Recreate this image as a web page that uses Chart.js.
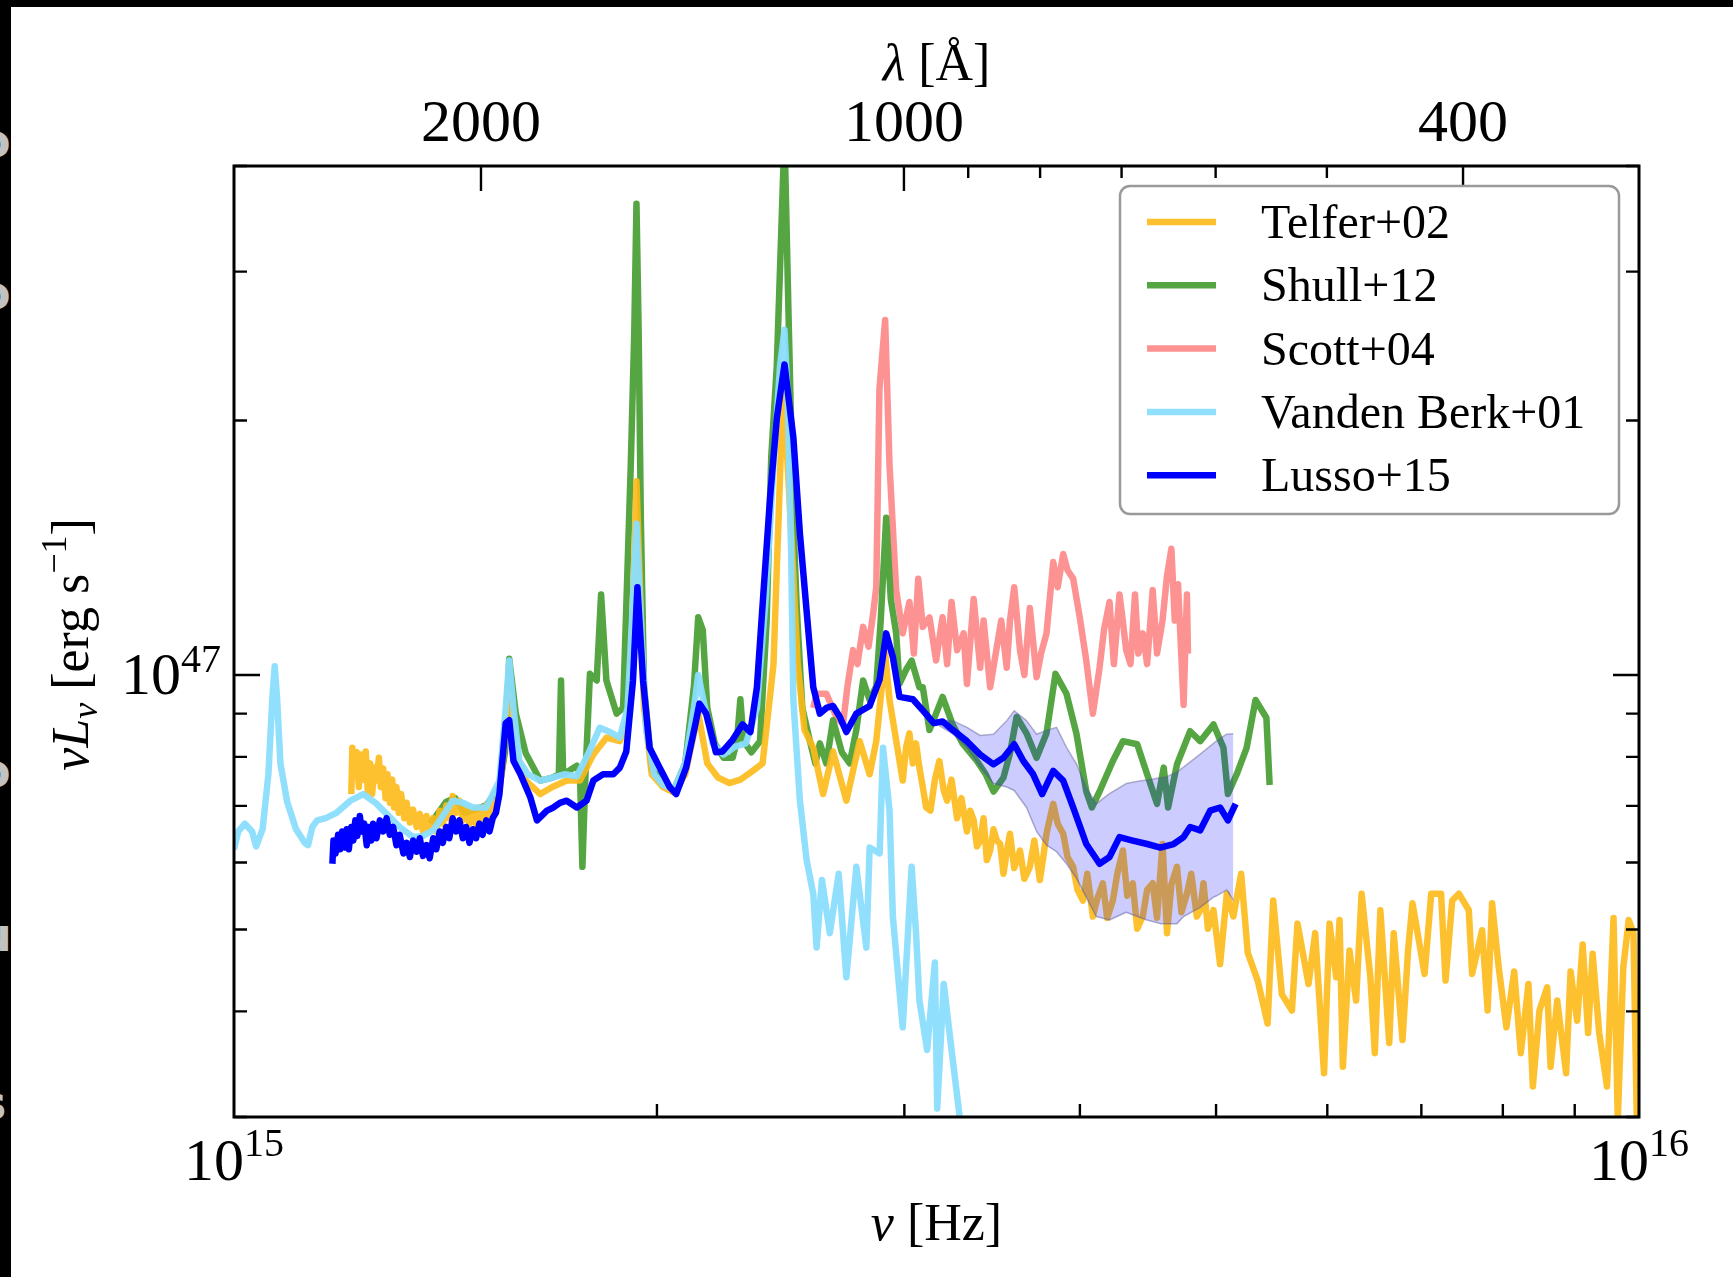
<!DOCTYPE html>
<html>
<head>
<meta charset="utf-8">
<title>Quasar composite spectra</title>
<script src="https://cdn.jsdelivr.net/npm/chart.js@4.4.1/dist/chart.umd.min.js"></script>
<style>
  html, body { margin: 0; padding: 0; background: #fff; }
  #wrap { position: relative; width: 1733px; height: 1277px; overflow: hidden; background: #fff; }
  #topbar { position: absolute; left: 0; top: 0; width: 1733px; height: 7px; background: #000; }
  #sidebar { position: absolute; left: 0; top: 0; width: 11px; height: 1277px; background: #000; overflow: hidden; }
  #sidebar span { position: absolute; left: -21px; font: bold 46px "DejaVu Sans"; color: #c2c2c2; line-height: 46px; }
</style>
</head>
<body>
<div id="wrap">
  <canvas id="myChart" width="1733" height="1277"></canvas>
  <div id="topbar"></div>
  <div id="sidebar">
    <span style="top:118px">o</span>
    <span style="top:270px">o</span>
    <span style="top:575px">f</span>
    <span style="top:748px">o</span>
    <span style="top:912px">u</span>
    <span style="top:1080px">s</span>
  </div>
</div>
<script>
// nu in units of 1e15 Hz, nuLnu in units of 1e46 erg/s
var telferNu = [1.212,1.214,1.219,1.223,1.227,1.232,1.236,1.241,1.245,1.250,1.254,1.259,1.263,1.268,1.272,1.277,1.282,1.286,1.291,1.296,
  1.300,1.305,1.310,1.315,1.322,1.327,1.334,1.341,1.349,1.356,1.363,1.371,1.378,1.386,1.393,1.401,1.408,1.416,1.423,1.431,
  1.439,1.447,1.455,1.463,1.471,1.479,1.487,1.495,1.503,1.512,1.520,1.528,1.536,1.545,1.553,1.561,1.570,1.579,1.587,1.613,
  1.652,1.685,1.725,1.763,1.802,1.841,1.882,1.913,1.934,1.958,1.983,2.020,2.057,2.095,2.140,2.172,2.211,2.252,2.293,2.335,
  2.378,2.421,2.460,2.492,2.519,2.547,2.584,2.626,2.669,2.728,2.788,2.834,2.865,2.907,2.928,2.944,
  2.992,3.009,3.025,3.042,3.058,3.075,3.092,3.109,3.131,3.154,
  3.177,3.200,3.218,3.241,3.271,3.294,3.324,3.342,3.361,3.379,
  3.397,3.416,3.434,3.453,3.472,3.491,3.510,3.529,3.548,3.567,
  3.592,3.626,3.652,3.685,3.712,3.746,3.767,3.787,3.808,3.829,
  3.857,3.892,3.920,3.956,3.984,4.020,4.049,4.086,4.116,4.153,
  4.183,4.222,4.253,4.292,4.323,4.362,4.394,4.434,4.466,4.507,
  4.539,4.580,4.614,4.647,4.690,4.724,4.767,4.801,4.845,4.872,
  4.898,4.934,4.979,
  5.033,5.089,5.144,5.210,
  5.267,5.353,5.441,5.491,5.570,5.662,5.714,5.818,5.882,5.968,6.022,6.088,6.122,6.155,6.222,6.290,6.347,6.439,6.486,6.545,
  6.641,6.690,6.787,6.849,6.899,7.037,7.114,7.230,7.283,7.363,7.444,7.566,7.607,7.733,7.803,7.860,7.946,8.047,8.150,8.239,
  8.343,8.403,8.495,8.603,8.651,8.746,8.874,8.939,9.036,9.118,9.200,9.268,9.369,9.489,9.591,9.658,9.746,9.833,9.910,9.964];
var telferL = [7.23,8.20,7.63,8.10,7.37,8.05,7.52,8.12,7.30,7.86,7.23,7.77,7.50,7.98,7.37,7.75,7.15,7.63,7.06,7.52,
  6.97,7.37,6.87,7.23,6.77,7.06,6.69,6.93,6.61,6.85,6.53,6.81,6.57,6.77,6.53,6.91,6.67,7.01,6.77,7.19,
  6.87,7.10,6.73,6.97,6.67,6.93,6.65,6.97,6.67,7.01,6.73,7.06,6.87,7.30,7.84,8.87,9.50,8.61,8.08,7.50,
  7.23,7.37,7.50,7.50,8.05,8.43,8.35,8.98,16.95,9.14,7.63,7.37,7.26,7.63,9.01,7.86,7.56,7.45,7.52,7.68,
  7.86,10.3,22.2,14.8,10.3,8.61,8.20,7.23,8.12,7.10,8.35,7.63,8.35,10.6,9.34,8.84,
  7.50,8.22,8.53,7.86,8.30,7.77,7.37,6.97,6.91,7.52,
  7.91,7.30,7.10,7.52,6.77,7.15,6.53,6.91,6.73,6.27,
  6.37,6.77,6.04,6.20,6.57,6.37,6.31,5.82,6.18,6.49,
  5.91,6.20,5.74,5.93,6.37,5.72,6.09,6.49,6.77,7.04,
  6.67,6.49,6.09,5.93,5.57,5.41,5.82,5.18,5.44,5.67,
  5.16,5.41,5.82,6.20,5.48,5.67,5.01,5.18,5.57,5.67,
  5.16,6.31,4.95,5.65,5.93,5.24,5.51,5.82,5.18,5.27,
  5.67,5.01,5.27,
  4.55,5.51,5.18,5.82,
  4.69,4.35,3.87,5.41,4.19,4.01,5.08,4.31,4.95,3.38,5.08,4.39,5.13,3.44,4.72,4.12,5.51,4.39,3.57,5.27,
  3.67,4.95,3.70,4.72,5.37,4.43,5.51,5.51,4.35,5.41,5.51,5.27,4.43,4.99,4.01,5.37,4.51,3.83,4.46,3.57,
  4.31,3.26,4.01,4.27,3.44,4.12,3.38,4.46,3.90,4.80,3.77,4.68,3.77,3.26,5.16,2.98,4.51,5.13,4.95,2.98];

var shullNu = [1.380,1.416,1.437,1.458,1.484,1.512,1.545,1.559,1.570,1.587,1.613,1.652,1.685,1.703,1.709,1.715,1.735,1.754,1.763,1.770,
  1.779,1.792,1.812,1.825,1.841,1.872,1.892,1.916,1.927,1.934,1.941,1.948,1.958,1.983,2.020,2.057,2.095,2.125,2.140,2.156,
  2.172,2.199,2.231,2.264,2.280,2.293,2.305,2.335,2.368,2.394,2.412,2.434,2.465,2.483,2.501,2.515,2.538,2.570,2.593,2.612,
  2.640,2.669,2.708,2.743,2.773,2.804,2.834,2.865,2.886,2.912,2.934,2.960,2.976,3.009,3.036,3.075,3.092,3.126,3.160,3.194,
  3.247,3.300,3.379,3.428,3.472,3.529,3.567,3.606,3.665,3.726,3.787,3.843,3.913,3.977,4.042,4.079,4.131,4.222,4.292,4.394,
  4.466,4.539,4.589,4.622,4.690,4.792,4.872,4.979,5.061,5.098,5.172,5.257,5.334,5.430,5.459];
var shullL = [6.67,7.08,7.15,6.87,6.93,7.01,7.37,8.10,10.45,9.00,8.08,7.50,7.56,7.63,9.85,7.63,7.72,7.81,7.63,5.93,
  7.63,10.03,9.85,12.45,9.85,9.00,9.14,17.7,25.4,36.1,25.4,15.2,9.70,7.75,7.45,7.32,7.86,9.70,11.7,11.3,
  9.14,8.30,7.98,7.98,8.35,9.36,8.35,8.10,8.35,11.6,18.1,23.2,43.6,25.4,15.2,12.0,9.14,8.35,7.86,8.30,
  7.86,8.84,8.10,7.86,8.61,9.85,9.34,9.70,11.6,15.35,12.3,11.2,9.76,10.15,10.4,9.67,9.67,8.61,9.00,9.42,
  8.74,8.30,7.91,7.63,7.28,7.56,8.08,8.92,8.53,7.98,8.53,10.03,9.50,8.53,7.28,6.97,7.28,7.91,8.35,8.28,
  7.63,7.04,7.77,6.97,7.84,8.58,8.35,8.74,8.20,7.23,7.63,8.20,9.34,8.90,7.41];

var scottNu = [2.584,2.598,2.640,2.684,2.713,2.733,2.758,2.778,2.804,2.829,
  2.850,2.865,2.880,2.907,2.928,2.960,2.992,3.025,3.047,3.069,
  3.092,3.126,3.160,3.194,3.218,3.241,3.271,3.306,3.324,3.361,
  3.397,3.416,3.453,3.491,3.516,3.548,3.567,3.592,3.626,3.652,
  3.685,3.726,3.753,3.787,3.829,3.857,3.892,3.920,3.956,3.999,
  4.042,4.086,4.131,4.161,4.199,4.229,4.268,4.291,4.315,4.346,
  4.378,4.402,4.434,4.466,4.507,4.539,4.580,4.614,4.647,4.673,
  4.698,4.741,4.767,4.775];
var scottL = [9.14,9.50,9.50,8.92,8.74,9.70,10.7,10.3,11.4,10.8,
  11.8,12.7,21.8,26.3,17.7,12.6,11.2,12.2,10.6,13.0,
  11.4,11.7,10.4,11.7,10.3,12.2,10.7,11.2,9.76,12.3,
  10.2,11.6,9.67,10.8,11.6,10.2,11.6,12.7,10.7,10.0,
  12.0,9.94,10.6,11.2,13.6,12.7,13.9,13.3,13.0,11.7,
  10.4,9.00,10.2,11.3,12.2,10.3,12.45,11.6,10.7,10.3,
  12.45,10.6,11.2,10.3,12.6,10.6,11.6,13.1,14.1,11.6,
  12.8,9.22,12.45,10.6];

var vbNu = [1.000,1.007,1.018,1.030,1.037,1.048,1.058,1.065,1.069,1.073,1.079,1.091,1.107,1.123,1.129,1.137,1.146,1.162,1.183,1.210,
  1.236,1.261,1.284,1.312,1.341,1.363,1.386,1.408,1.431,1.455,1.479,1.512,1.545,1.561,1.570,1.581,1.596,1.619,1.652,1.685,
  1.719,1.754,1.789,1.821,1.852,1.882,1.906,1.920,1.934,1.948,1.965,1.991,2.020,2.057,2.095,2.125,2.140,2.160,2.191,2.231,
  2.272,2.314,2.356,2.390,2.421,2.447,2.465,2.478,2.492,2.501,2.528,2.556,2.584,2.598,2.621,2.655,2.694,2.728,2.773,2.819,
  2.834,2.881,2.897,2.928,2.944,2.992,3.036,3.058,3.075,3.114,3.154,3.166,3.200,3.235,3.288];
var vbL = [6.22,6.53,6.67,6.53,6.27,6.57,7.63,9.42,10.24,9.42,7.86,7.08,6.57,6.33,6.29,6.61,6.73,6.77,6.87,7.10,
  7.23,7.06,6.85,6.61,6.43,6.45,6.55,6.81,7.10,7.06,6.97,6.97,7.50,9.14,10.4,9.14,7.91,7.63,7.50,7.56,
  7.63,7.59,8.10,8.66,8.56,8.43,9.14,11.6,15.1,11.6,8.61,7.63,7.41,7.32,7.86,9.14,10.0,9.28,8.30,8.05,
  8.22,8.30,9.14,12.3,17.7,23.2,25.6,21.2,13.9,9.34,7.10,6.04,5.51,4.76,5.72,4.95,5.82,4.39,5.93,4.76,
  6.25,6.15,8.20,6.91,5.18,3.83,5.93,4.95,4.12,3.60,4.57,3.07,4.31,3.70,2.96];

var lussoNu = [1.175,1.177,1.181,1.186,1.190,1.194,1.199,1.203,1.207,1.212,1.216,1.220,1.224,1.229,1.233,1.238,1.243,1.247,1.252,1.256,
  1.263,1.270,1.277,1.284,1.291,1.298,1.305,1.312,1.320,1.327,1.334,1.341,1.349,1.356,1.363,1.371,1.378,1.386,1.393,1.401,
  1.408,1.416,1.423,1.431,1.439,1.447,1.455,1.463,1.471,1.479,1.487,1.495,1.503,1.512,1.520,1.528,1.536,1.545,
  1.561,1.570,1.581,1.599,1.625,1.643,1.670,1.688,1.706,1.725,1.754,1.782,1.802,1.831,1.862,1.882,1.902,
  1.923,1.937,1.955,1.976,2.009,2.042,2.064,2.098,2.132,2.144,2.168,2.203,2.227,2.264,2.301,2.331,2.356,2.382,2.408,2.434,
  2.465,2.501,2.528,2.556,2.584,2.612,2.640,2.669,2.699,2.728,2.773,2.834,2.881,2.912,2.944,2.976,3.042,3.092,3.148,3.194,
  3.247,3.324,3.397,3.472,3.529,3.592,3.646,3.705,3.760,3.829,3.892,3.956,4.042,4.131,4.199,4.268,4.362,4.466,4.564,4.664,
  4.741,4.792,4.872,4.952,5.033,5.098,5.163];
var lussoL = [5.98,6.37,6.15,6.47,6.22,6.53,6.25,6.57,6.22,6.61,6.37,6.73,6.45,6.81,6.53,6.67,6.29,6.61,6.37,6.67,
  6.41,6.73,6.53,6.77,6.47,6.61,6.29,6.47,6.15,6.33,6.09,6.37,6.18,6.41,6.11,6.29,6.07,6.41,6.22,6.53,
  6.33,6.61,6.41,6.77,6.53,6.73,6.41,6.61,6.33,6.57,6.41,6.67,6.47,6.73,6.53,6.77,6.87,7.23,
  8.77,8.84,7.91,7.63,7.17,6.73,6.91,6.97,7.06,7.10,6.97,7.10,7.50,7.63,7.63,7.77,8.12,
  9.85,12.7,9.85,8.20,7.77,7.37,7.23,7.77,8.81,9.25,9.00,8.10,8.12,8.38,8.74,8.56,9.67,12.6,16.3,20.1,
  23.3,19.1,14.7,11.9,9.67,9.00,9.14,9.19,8.92,8.56,9.00,9.19,9.88,11.2,10.5,9.42,9.36,9.08,8.77,8.81,
  8.61,8.35,8.05,7.84,7.98,8.28,7.91,7.63,7.23,7.70,7.50,6.97,6.31,5.98,6.09,6.43,6.37,6.31,6.25,6.31,
  6.43,6.61,6.55,6.91,6.97,6.73,7.04];

// Lusso+15 uncertainty band
var bandNu = [3.177,3.247,3.324,3.397,3.472,3.548,3.592,3.665,3.726,3.787,3.850,3.913,3.977,4.042,4.108,4.199,4.315,4.410,4.466,4.564,
  4.614,4.690,4.741,4.872,4.979,5.005,5.089,5.144];
var bandHi = [8.84,8.83,8.67,8.48,8.51,8.83,9.07,8.83,8.51,8.60,8.67,8.21,7.85,7.37,7.04,7.24,7.44,7.49,7.51,7.56,
  7.58,7.68,7.78,8.06,8.30,8.36,8.51,8.52];
var bandLo = [8.71,8.52,8.21,7.78,7.44,7.37,7.30,6.97,6.53,6.29,6.18,5.98,5.75,5.46,5.18,5.13,5.24,5.17,5.13,5.08,
  5.08,5.08,5.18,5.31,5.46,5.48,5.57,5.41];

var seriesLabels = ['Telfer+02', 'Shull+12', 'Scott+04', 'Vanden Berk+01', 'Lusso+15'];
var seriesColors = ['rgba(253,186,24,0.9)', 'rgba(70,157,50,0.92)', 'rgba(253,140,140,0.95)', 'rgba(138,221,253,0.95)', '#0000ff'];

// tick values
var nuMajor = [1, 10];            // 1e15 Hz
var nuMinor = [2, 3, 4, 5, 6, 7, 8, 9];
var lumMajor = [10];              // 1e46 erg/s
var lumMinor = [3, 4, 5, 6, 7, 8, 9, 20, 30, 40];
var lamMajor = [2000, 1000, 400]; // Angstrom
var lamMinor = [900, 800, 700, 600, 500];
var C_ANG = 2.99792458e18;

var SERIF = "'Liberation Serif', 'DejaVu Serif', serif";

function pts(nu, L) {
  var out = [];
  for (var i = 0; i < nu.length; i++) {
    out.push({x: nu[i] * 1e15, y: L[i] * 1e46});
  }
  return out;
}

function richText(ctx, parts, x, y, align) {
  var total = 0;
  parts.forEach(function(p) {
    ctx.font = p.font;
    p.w = ctx.measureText(p.t).width;
    total += p.w;
  });
  var cx = x;
  if (align === 'center') cx = x - total / 2;
  if (align === 'right') cx = x - total;
  ctx.textAlign = 'left';
  parts.forEach(function(p) {
    ctx.font = p.font;
    ctx.fillText(p.t, cx, y + (p.dy || 0));
    cx += p.w;
  });
}

var axesFrame = {
  id: 'axesFrame',
  afterDatasetsDraw: function(chart) {
    var ctx = chart.ctx, a = chart.chartArea;
    var xs = chart.scales.x, x2 = chart.scales.x2, ys = chart.scales.y;
    ctx.save();
    ctx.strokeStyle = '#000';
    ctx.lineWidth = 2.4;
    ctx.beginPath();
    nuMinor.forEach(function(v) {
      var px = xs.getPixelForValue(v * 1e15);
      ctx.moveTo(px, a.bottom); ctx.lineTo(px, a.bottom - 13);
    });
    lamMajor.forEach(function(l) {
      var px = x2.getPixelForValue(C_ANG / l);
      ctx.moveTo(px, a.top); ctx.lineTo(px, a.top + 25);
    });
    lamMinor.forEach(function(l) {
      var px = x2.getPixelForValue(C_ANG / l);
      ctx.moveTo(px, a.top); ctx.lineTo(px, a.top + 12);
    });
    lumMajor.forEach(function(v) {
      var py = ys.getPixelForValue(v * 1e46);
      ctx.moveTo(a.left, py); ctx.lineTo(a.left + 26, py);
      ctx.moveTo(a.right, py); ctx.lineTo(a.right - 26, py);
    });
    lumMinor.forEach(function(v) {
      var py = ys.getPixelForValue(v * 1e46);
      ctx.moveTo(a.left, py); ctx.lineTo(a.left + 13, py);
      ctx.moveTo(a.right, py); ctx.lineTo(a.right - 13, py);
    });
    ctx.stroke();
    ctx.lineWidth = 3;
    ctx.strokeRect(a.left, a.top, a.right - a.left, a.bottom - a.top);
    ctx.restore();
  },
  afterDraw: function(chart) {
    var ctx = chart.ctx, a = chart.chartArea;
    var xs = chart.scales.x, x2 = chart.scales.x2, ys = chart.scales.y;
    ctx.save();
    ctx.fillStyle = '#000';
    ctx.textBaseline = 'alphabetic';

    // bottom tick labels
    nuMajor.forEach(function(v) {
      var px = xs.getPixelForValue(v * 1e15);
      var e = String(15 + Math.round(Math.log10(v)));
      richText(ctx, [{t: '10', font: '60px ' + SERIF}, {t: e, font: '40px ' + SERIF, dy: -24}], px, a.bottom + 63, 'center');
    });
    // left tick label
    lumMajor.forEach(function(v) {
      var py = ys.getPixelForValue(v * 1e46);
      var e = String(46 + Math.round(Math.log10(v)));
      richText(ctx, [{t: '10', font: '60px ' + SERIF}, {t: e, font: '40px ' + SERIF, dy: -22}], a.left - 13, py + 19, 'right');
    });
    // top wavelength labels
    lamMajor.forEach(function(l) {
      var px = x2.getPixelForValue(C_ANG / l);
      richText(ctx, [{t: String(l), font: '60px ' + SERIF}], px, a.top - 25, 'center');
    });
    var cxm = (a.left + a.right) / 2;
    richText(ctx, [{t: 'λ', font: 'italic 52px ' + SERIF}, {t: ' [Å]', font: '52px ' + SERIF}], cxm, a.top - 86, 'center');
    richText(ctx, [{t: 'ν', font: 'italic 52px ' + SERIF}, {t: ' [Hz]', font: '52px ' + SERIF}], cxm, a.bottom + 123, 'center');

    // y axis title
    ctx.save();
    ctx.translate(a.left - 146, (a.top + a.bottom) / 2 + 3);
    ctx.rotate(-Math.PI / 2);
    richText(ctx, [
      {t: 'νL', font: 'italic 52px ' + SERIF},
      {t: 'ν', font: 'italic 36px ' + SERIF, dy: 9},
      {t: ' [erg s', font: '52px ' + SERIF},
      {t: '−1', font: '36px ' + SERIF, dy: -22},
      {t: ']', font: '52px ' + SERIF}
    ], 0, 0, 'center');
    ctx.restore();

    // legend
    var bw = 499, bh = 328;
    var bx = a.right - 20 - bw, by = a.top + 20, r = 10;
    ctx.beginPath();
    ctx.moveTo(bx + r, by);
    ctx.arcTo(bx + bw, by, bx + bw, by + bh, r);
    ctx.arcTo(bx + bw, by + bh, bx, by + bh, r);
    ctx.arcTo(bx, by + bh, bx, by, r);
    ctx.arcTo(bx, by, bx + bw, by, r);
    ctx.closePath();
    ctx.fillStyle = '#fff';
    ctx.fill();
    ctx.strokeStyle = '#9a9a9a';
    ctx.lineWidth = 2.5;
    ctx.stroke();
    var items = chart.data.datasets.filter(function(d) { return !d.band; });
    items.forEach(function(ds, i) {
      var ly = by + 36 + i * 63.3;
      ctx.strokeStyle = ds.borderColor;
      ctx.lineWidth = 6.5;
      ctx.beginPath();
      ctx.moveTo(bx + 27, ly); ctx.lineTo(bx + 96, ly);
      ctx.stroke();
      ctx.fillStyle = '#000';
      ctx.font = '48px ' + SERIF;
      ctx.textAlign = 'left';
      ctx.fillText(ds.label, bx + 141, ly + 16);
    });
    ctx.restore();
  }
};

var seriesNu = [telferNu, shullNu, scottNu, vbNu, lussoNu];
var seriesL = [telferL, shullL, scottL, vbL, lussoL];
var drawOrder = [3, 4, 5, 2, 0];

var datasets = seriesLabels.map(function(label, i) {
  return {
    label: label,
    data: pts(seriesNu[i], seriesL[i]),
    borderColor: seriesColors[i],
    borderWidth: 6.5,
    fill: false,
    order: drawOrder[i]
  };
});
datasets.push({
  label: 'Lusso+15 upper', band: true,
  data: pts(bandNu, bandHi),
  borderColor: 'rgba(90,90,140,0.45)', borderWidth: 1.5,
  backgroundColor: 'rgba(0,0,255,0.2)',
  fill: '+1', order: 1
});
datasets.push({
  label: 'Lusso+15 lower', band: true,
  data: pts(bandNu, bandLo),
  borderColor: 'rgba(90,90,140,0.45)', borderWidth: 1.5,
  fill: false, order: 1
});

var ctx = document.getElementById('myChart');
var myChart = new Chart(ctx, {
  type: 'line',
  data: { datasets: datasets },
  options: {
    responsive: false,
    animation: false,
    events: [],
    layout: { padding: { left: 234, right: 94, top: 166, bottom: 160 } },
    elements: {
      point: { radius: 0 },
      line: { tension: 0, borderJoinStyle: 'round', borderCapStyle: 'butt' }
    },
    plugins: { legend: { display: false }, tooltip: { enabled: false } },
    scales: {
      x: { type: 'logarithmic', min: 1e15, max: 1e16, bounds: 'data', display: false },
      x2: { type: 'logarithmic', position: 'top', min: 1e15, max: 1e16, bounds: 'data', display: false },
      y: { type: 'logarithmic', min: 3e46, max: 4e47, bounds: 'data', display: false },
      y2: { type: 'logarithmic', position: 'right', min: 3e46, max: 4e47, bounds: 'data', display: false }
    }
  },
  plugins: [axesFrame]
});
</script>
</body>
</html>
